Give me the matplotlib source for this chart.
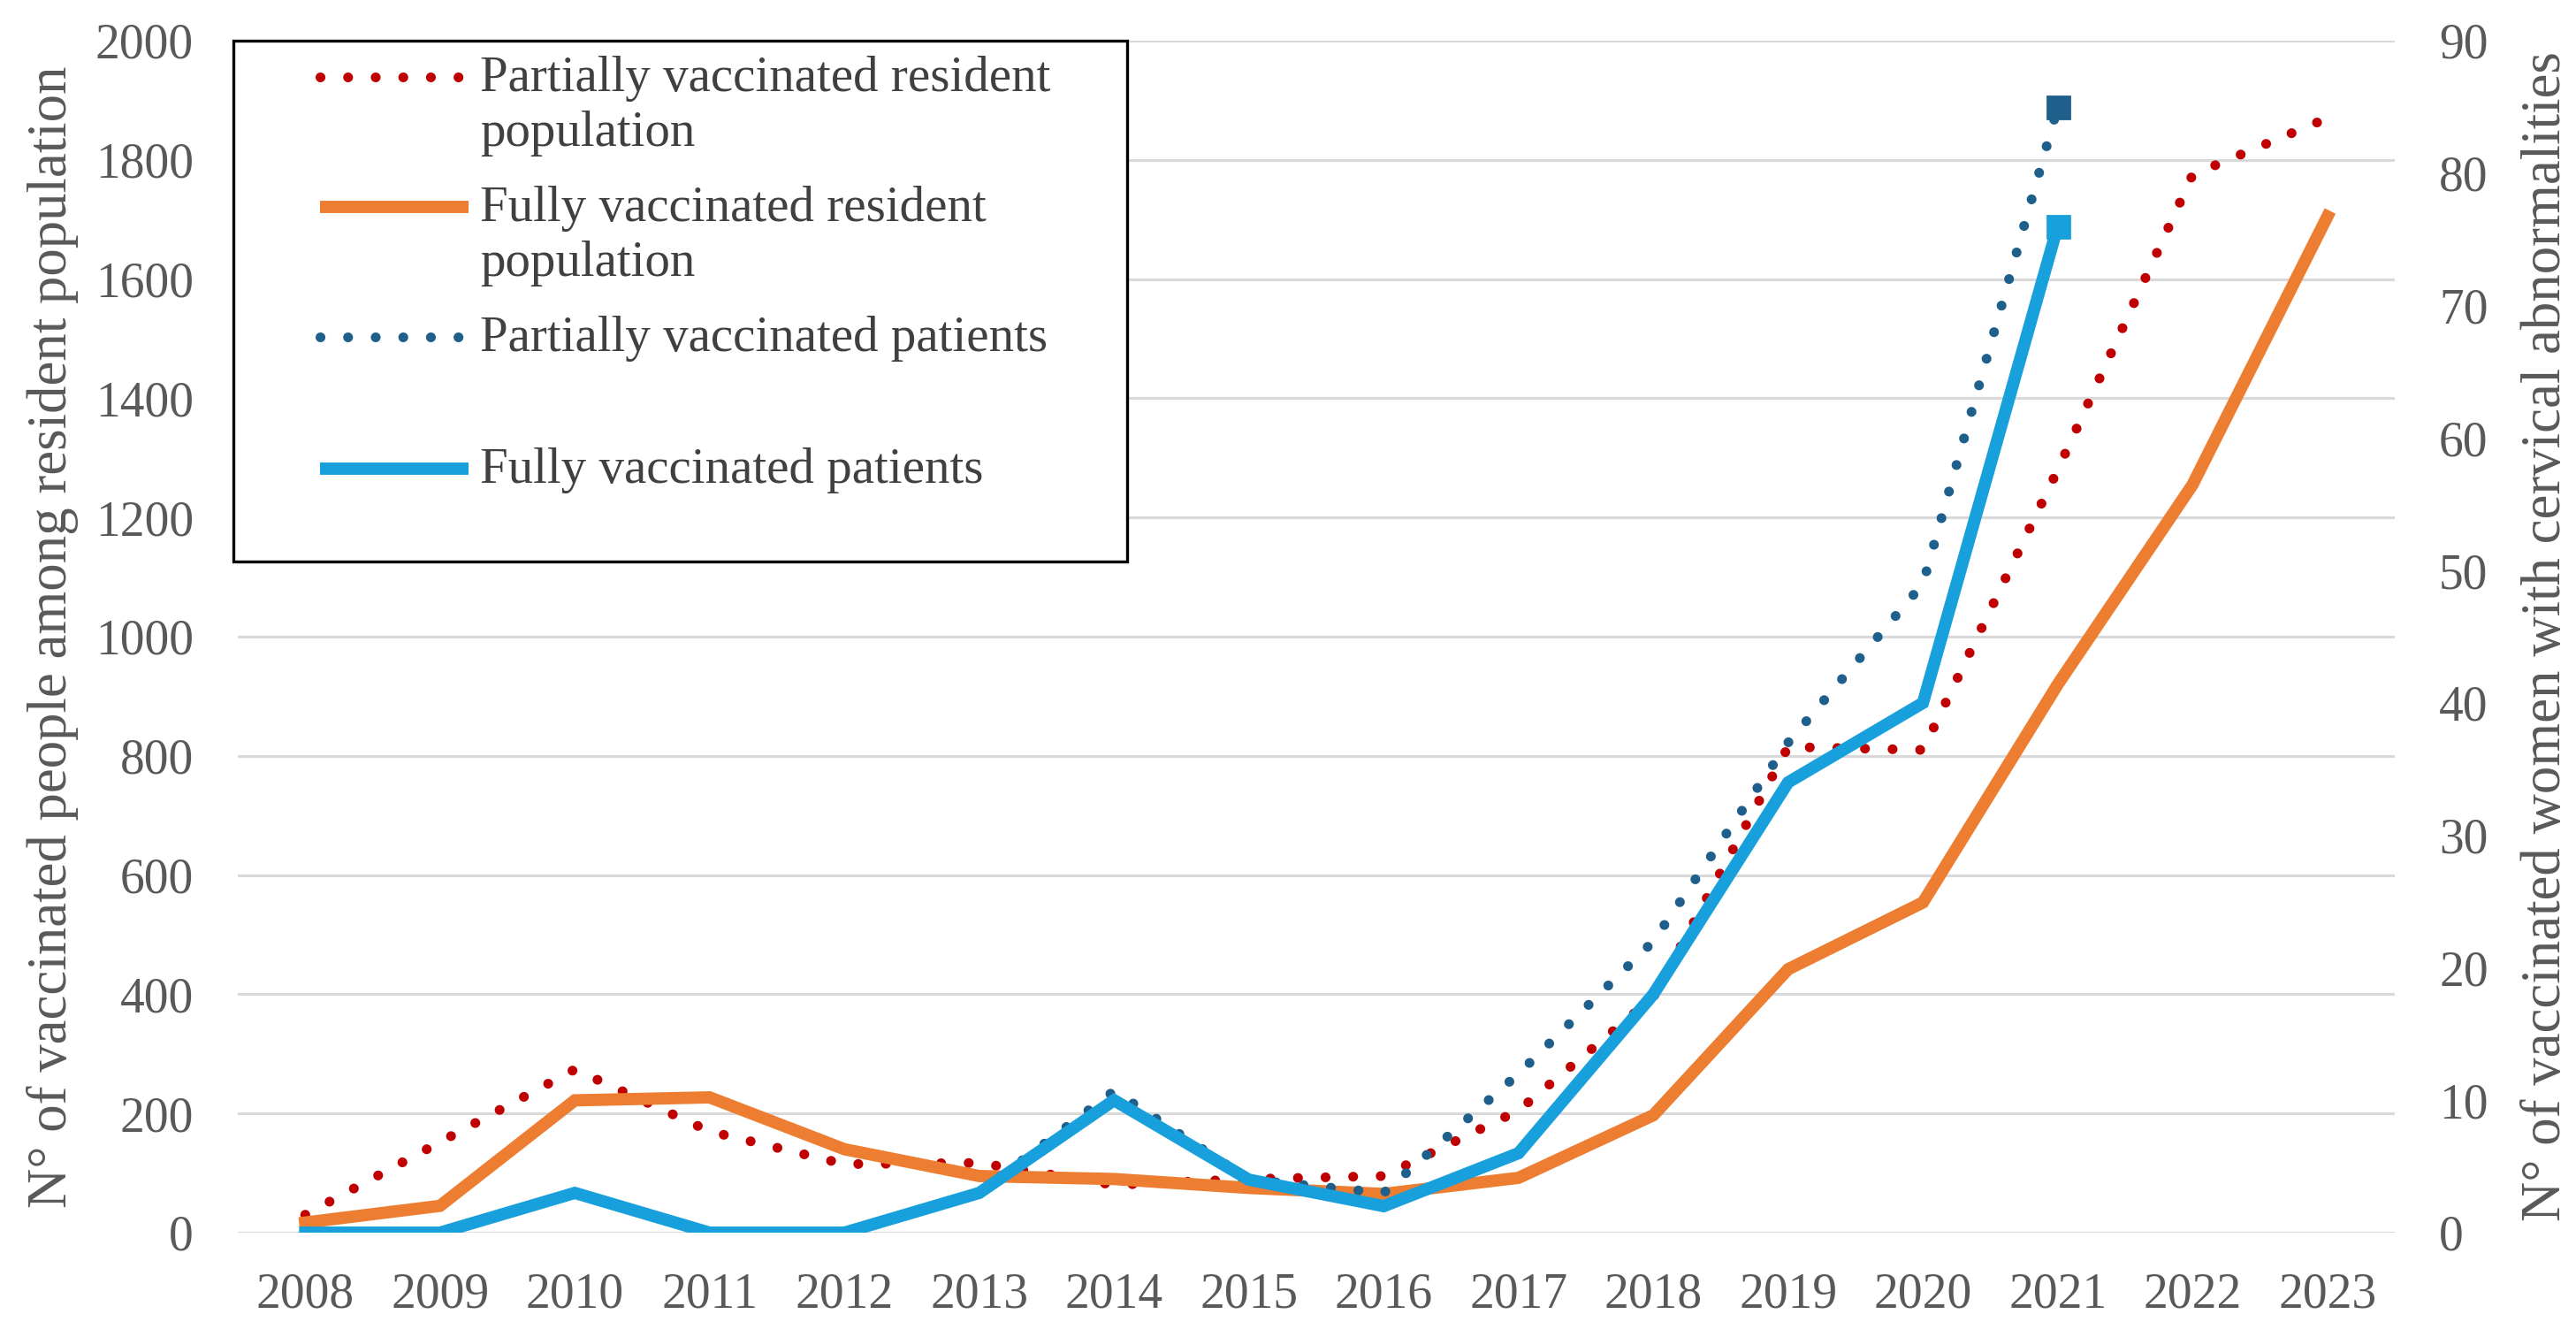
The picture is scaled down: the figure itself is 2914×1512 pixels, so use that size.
import matplotlib
matplotlib.use("Agg")
import matplotlib.pyplot as plt
from matplotlib.lines import Line2D
from matplotlib.patches import Rectangle

# Data
years = ["2008", "2009", "2010", "2011", "2012", "2013", "2014", "2015",
         "2016", "2017", "2018", "2019", "2020", "2021", "2022", "2023"]

# left axis: resident population
partial_resident = [30, 152, 274, 170, 115, 117, 80, 90, 95, 205, 395, 815, 810, 1280, 1775, 1870]
full_resident = [17, 45, 222, 227, 140, 95, 90, 75, 65, 92, 197, 442, 554, 920, 1255, 1705]

# right axis: patients (data until 2021)
partial_patients = [0, 0, 3, 0, 0, 3, 10.7, 4, 3, 12, 22, 37, 49, 85]
full_patients = [0, 0, 3, 0, 0, 3, 10, 4, 2, 6, 18, 34, 40, 76]

labels = ["Partially vaccinated resident\npopulation",
          "Fully vaccinated resident\npopulation",
          "Partially vaccinated patients",
          "Fully vaccinated patients"]

RED = "#C00000"
ORANGE = "#ED7D31"
DARKBLUE = "#1F5F8B"
LIGHTBLUE = "#18A0DC"
GREY = "#595959"
DOTS = (0, (0.01, 2.8))
LW_DOT = 4.0
LW_SOLID = 5.0

plt.rcParams["font.family"] = ["Liberation Serif", "DejaVu Serif"]

W, H = 2914, 1512
fig = plt.figure(figsize=(W / 200, H / 200), dpi=200)
ax = fig.add_axes([269 / W, 1 - 1394 / H, 2440 / W, 1348 / H])
ax2 = ax.twinx()

x = list(range(len(years)))
xp = x[:len(partial_patients)]

ax.plot(x, partial_resident, color=RED, lw=LW_DOT, linestyle=DOTS,
        dash_capstyle="round", zorder=3)
ax.plot(x, full_resident, color=ORANGE, lw=LW_SOLID, solid_joinstyle="miter", zorder=4)

ax2.plot(xp, partial_patients, color=DARKBLUE, lw=LW_DOT, linestyle=DOTS,
         dash_capstyle="round", zorder=3)
ax2.plot(xp[-1:], partial_patients[-1:], marker="s", ms=9, color=DARKBLUE, lw=0, zorder=5)
ax2.plot(xp, full_patients, color=LIGHTBLUE, lw=LW_SOLID, solid_joinstyle="miter", zorder=4)
ax2.plot(xp[-1:], full_patients[-1:], marker="s", ms=9, color=LIGHTBLUE, lw=0, zorder=5)

ax.set_xlim(-0.5, len(years) - 0.5)
ax.set_ylim(0, 2000)
ax2.set_ylim(0, 90)
ax.set_xticks(x)
ax.set_xticklabels(years)
ax.set_yticks(range(0, 2001, 200))
ax2.set_yticks(range(0, 91, 10))

ax.grid(axis="y", color="#D9D9D9", lw=1.1)
ax.set_axisbelow(True)
for a in (ax, ax2):
    for s in a.spines.values():
        s.set_visible(False)
    a.tick_params(length=0, labelsize=20, labelcolor=GREY)
ax.tick_params(axis="x", pad=16)
ax.tick_params(axis="y", pad=18)
ax2.tick_params(axis="y", pad=18)

ax.set_ylabel("N° of vaccinated people among resident population", fontsize=22.6, color=GREY)
ax.yaxis.set_label_coords(-0.0738, 0.5)
ax2.set_ylabel("N° of vaccinated women with cervical abnormalities", fontsize=22.6,
               color=GREY, rotation=90)
ax2.yaxis.set_label_coords(1.0586, 0.5)

# legend drawn by hand so the handle sits on the first text line like Excel does
fig.patches.append(Rectangle((264 / W, 1 - 635 / H), (1275 - 264) / W, (635 - 46) / H,
                             transform=fig.transFigure, facecolor="white",
                             edgecolor="black", lw=1.2, zorder=10))
styles = [(RED, DOTS, LW_DOT), (ORANGE, "-", LW_SOLID),
          (DARKBLUE, DOTS, LW_DOT), (LIGHTBLUE, "-", LW_SOLID)]
rows = [87, 234, 381, 530]
for (c, ls, lw), lab, yy in zip(styles, labels, rows):
    yf = 1 - yy / H
    fig.add_artist(Line2D([362 / W, 530 / W], [yf, yf], transform=fig.transFigure,
                          color=c, lw=lw, linestyle=ls, dash_capstyle="round",
                          solid_capstyle="butt", zorder=11))
    fig.text(543 / W, 1 - (yy - 24) / H, lab, fontsize=20.5, color="#404040",
             va="top", ha="left", linespacing=1.26, zorder=12)

fig.savefig("out.png", dpi=200)
